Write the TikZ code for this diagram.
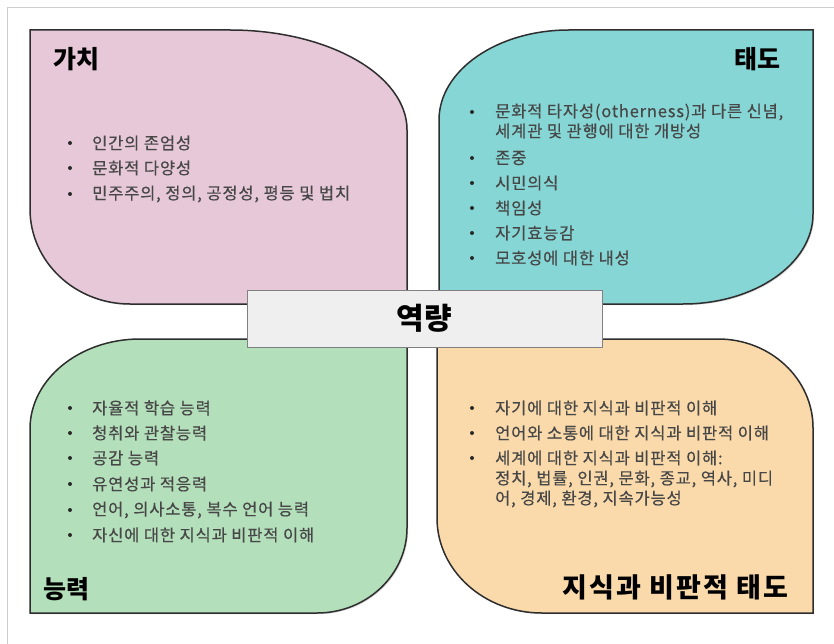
\documentclass[tikz,border=0pt]{standalone}
\usepackage{fontspec}
\setmainfont{Noto Sans CJK KR}
\usetikzlibrary{shadows}
\definecolor{pinkfill}{HTML}{E6C8D8}
\definecolor{tealfill}{HTML}{86D6D6}
\definecolor{greenfill}{HTML}{B4DFBB}
\definecolor{orangefill}{HTML}{FADAAA}
\definecolor{centerfill}{HTML}{EFEFEF}
\definecolor{edgecol}{HTML}{2E2E2E}
\definecolor{bodytext}{HTML}{474747}
\definecolor{bulcol}{HTML}{2A2A2A}
\definecolor{framecol}{HTML}{CCCCCC}
\begin{document}
\begin{tikzpicture}[x=1pt,y=-1pt,
  panel/.style={draw=edgecol, line width=1.5pt, drop shadow={shadow xshift=1.2pt, shadow yshift=-1.2pt, opacity=0.3}},
  itemtext/.style={anchor=west, inner sep=0pt, font=\fontsize{16.5}{19}\selectfont\addfontfeature{LetterSpace=5,FakeBold=0.4}, text=bodytext},
  bul/.style={circle, fill=bulcol, inner sep=0pt, minimum size=4pt},
  ttl/.style={inner sep=0pt, font=\fontsize{25}{30}\selectfont\bfseries, text=black},
  widettl/.style={inner sep=0pt, font=\fontsize{27}{30}\selectfont\bfseries\addfontfeature{LetterSpace=8}, text=black},
  centerbox/.style={draw=black!50, line width=0.9pt, fill=centerfill, minimum width=355pt, minimum height=57pt, inner sep=0pt, font=\fontsize{30}{34}\selectfont\bfseries, drop shadow={shadow xshift=1pt, shadow yshift=-1pt, opacity=0.3}}
]
\useasboundingbox (0,0) rectangle (834,644);
\fill[white] (0,0) rectangle (834,644);
% faint frame (top and left)
\draw[framecol, line width=0.8pt] (834,7) -- (7,7) -- (7,644);

% pink panel (가치)
\path[panel, fill=pinkfill]
  (30,30) -- (230,30)
  .. controls (327.8,30) and (407,74.8) .. (407,130)
  -- (407,304) -- (130,304)
  .. controls (74.8,304) and (30,261.5) .. (30,209)
  -- cycle;
% teal panel (태도)
\path[panel, fill=tealfill]
  (439,120) .. controls (439,70.3) and (497.2,30) .. (569,30)
  -- (813,30) -- (813,214)
  .. controls (813,263.7) and (754.8,304) .. (683,304)
  -- (439,304) -- cycle;
% green panel (능력)
\path[panel, fill=greenfill]
  (30,429) .. controls (30,379.3) and (79.3,339) .. (140,339)
  -- (407,339) -- (407,528)
  .. controls (407,574.9) and (366.6,613) .. (317,613)
  -- (30,613) -- cycle;
% orange panel (지식과 비판적 태도)
\path[panel, fill=orangefill]
  (437,339) -- (718,339)
  .. controls (770.5,339) and (813,378.8) .. (813,428)
  -- (813,613) -- (542,613)
  .. controls (484,613) and (437,570.5) .. (437,518)
  -- cycle;

% center box
\node[centerbox] (core) at (424.5,318.5) {역량};

% titles
\node[ttl, anchor=west] (tval) at (53,59.5) {가치};
\node[ttl, anchor=east] (tatt) at (781,59.5) {태도};
\node[ttl, anchor=west] (tskl) at (43,589) {능력};
\node[widettl, anchor=east] (tknw) at (789,587) {지식과 비판적 태도};

% pink items
\node[bul] (pb1) at (70,143) {}; \node[itemtext] (p1) at (92,143) {인간의 존엄성};
\node[bul] (pb2) at (70,168) {}; \node[itemtext] (p2) at (92,168) {문화적 다양성};
\node[bul] (pb3) at (70,194) {}; \node[itemtext] (p3) at (92,194) {민주주의, 정의, 공정성, 평등 및 법치};

% teal items
\node[bul] (ab1) at (472,112) {}; \node[itemtext] (a1) at (495,112) {문화적 타자성(otherness)과 다른 신념,};
\node[itemtext] (a1b) at (495,131) {세계관 및 관행에 대한 개방성};
\node[bul] (ab2) at (472,158) {}; \node[itemtext] (a2) at (495,158) {존중};
\node[bul] (ab3) at (472,183) {}; \node[itemtext] (a3) at (495,183) {시민의식};
\node[bul] (ab4) at (472,208) {}; \node[itemtext] (a4) at (495,208) {책임성};
\node[bul] (ab5) at (472,233) {}; \node[itemtext] (a5) at (495,233) {자기효능감};
\node[bul] (ab6) at (472,258) {}; \node[itemtext] (a6) at (495,258) {모호성에 대한 내성};

% green items
\node[bul] (gb1) at (70,408) {}; \node[itemtext] (g1) at (92,408) {자율적 학습 능력};
\node[bul] (gb2) at (70,433) {}; \node[itemtext] (g2) at (92,433) {청취와 관찰능력};
\node[bul] (gb3) at (70,458) {}; \node[itemtext] (g3) at (92,458) {공감 능력};
\node[bul] (gb4) at (70,484) {}; \node[itemtext] (g4) at (92,484) {유연성과 적응력};
\node[bul] (gb5) at (70,510) {}; \node[itemtext] (g5) at (92,510) {언어, 의사소통, 복수 언어 능력};
\node[bul] (gb6) at (70,535) {}; \node[itemtext] (g6) at (92,535) {자신에 대한 지식과 비판적 이해};

% orange items
\node[bul] (ob1) at (472,408) {}; \node[itemtext] (o1) at (495,408) {자기에 대한 지식과 비판적 이해};
\node[bul] (ob2) at (472,433) {}; \node[itemtext] (o2) at (495,433) {언어와 소통에 대한 지식과 비판적 이해};
\node[bul] (ob3) at (472,458) {}; \node[itemtext] (o3) at (495,458) {세계에 대한 지식과 비판적 이해:};
\node[itemtext] (o3b) at (495,479) {정치, 법률, 인권, 문화, 종교, 역사, 미디};
\node[itemtext] (o3c) at (495,499) {어, 경제, 환경, 지속가능성};
\end{tikzpicture}
\end{document}
